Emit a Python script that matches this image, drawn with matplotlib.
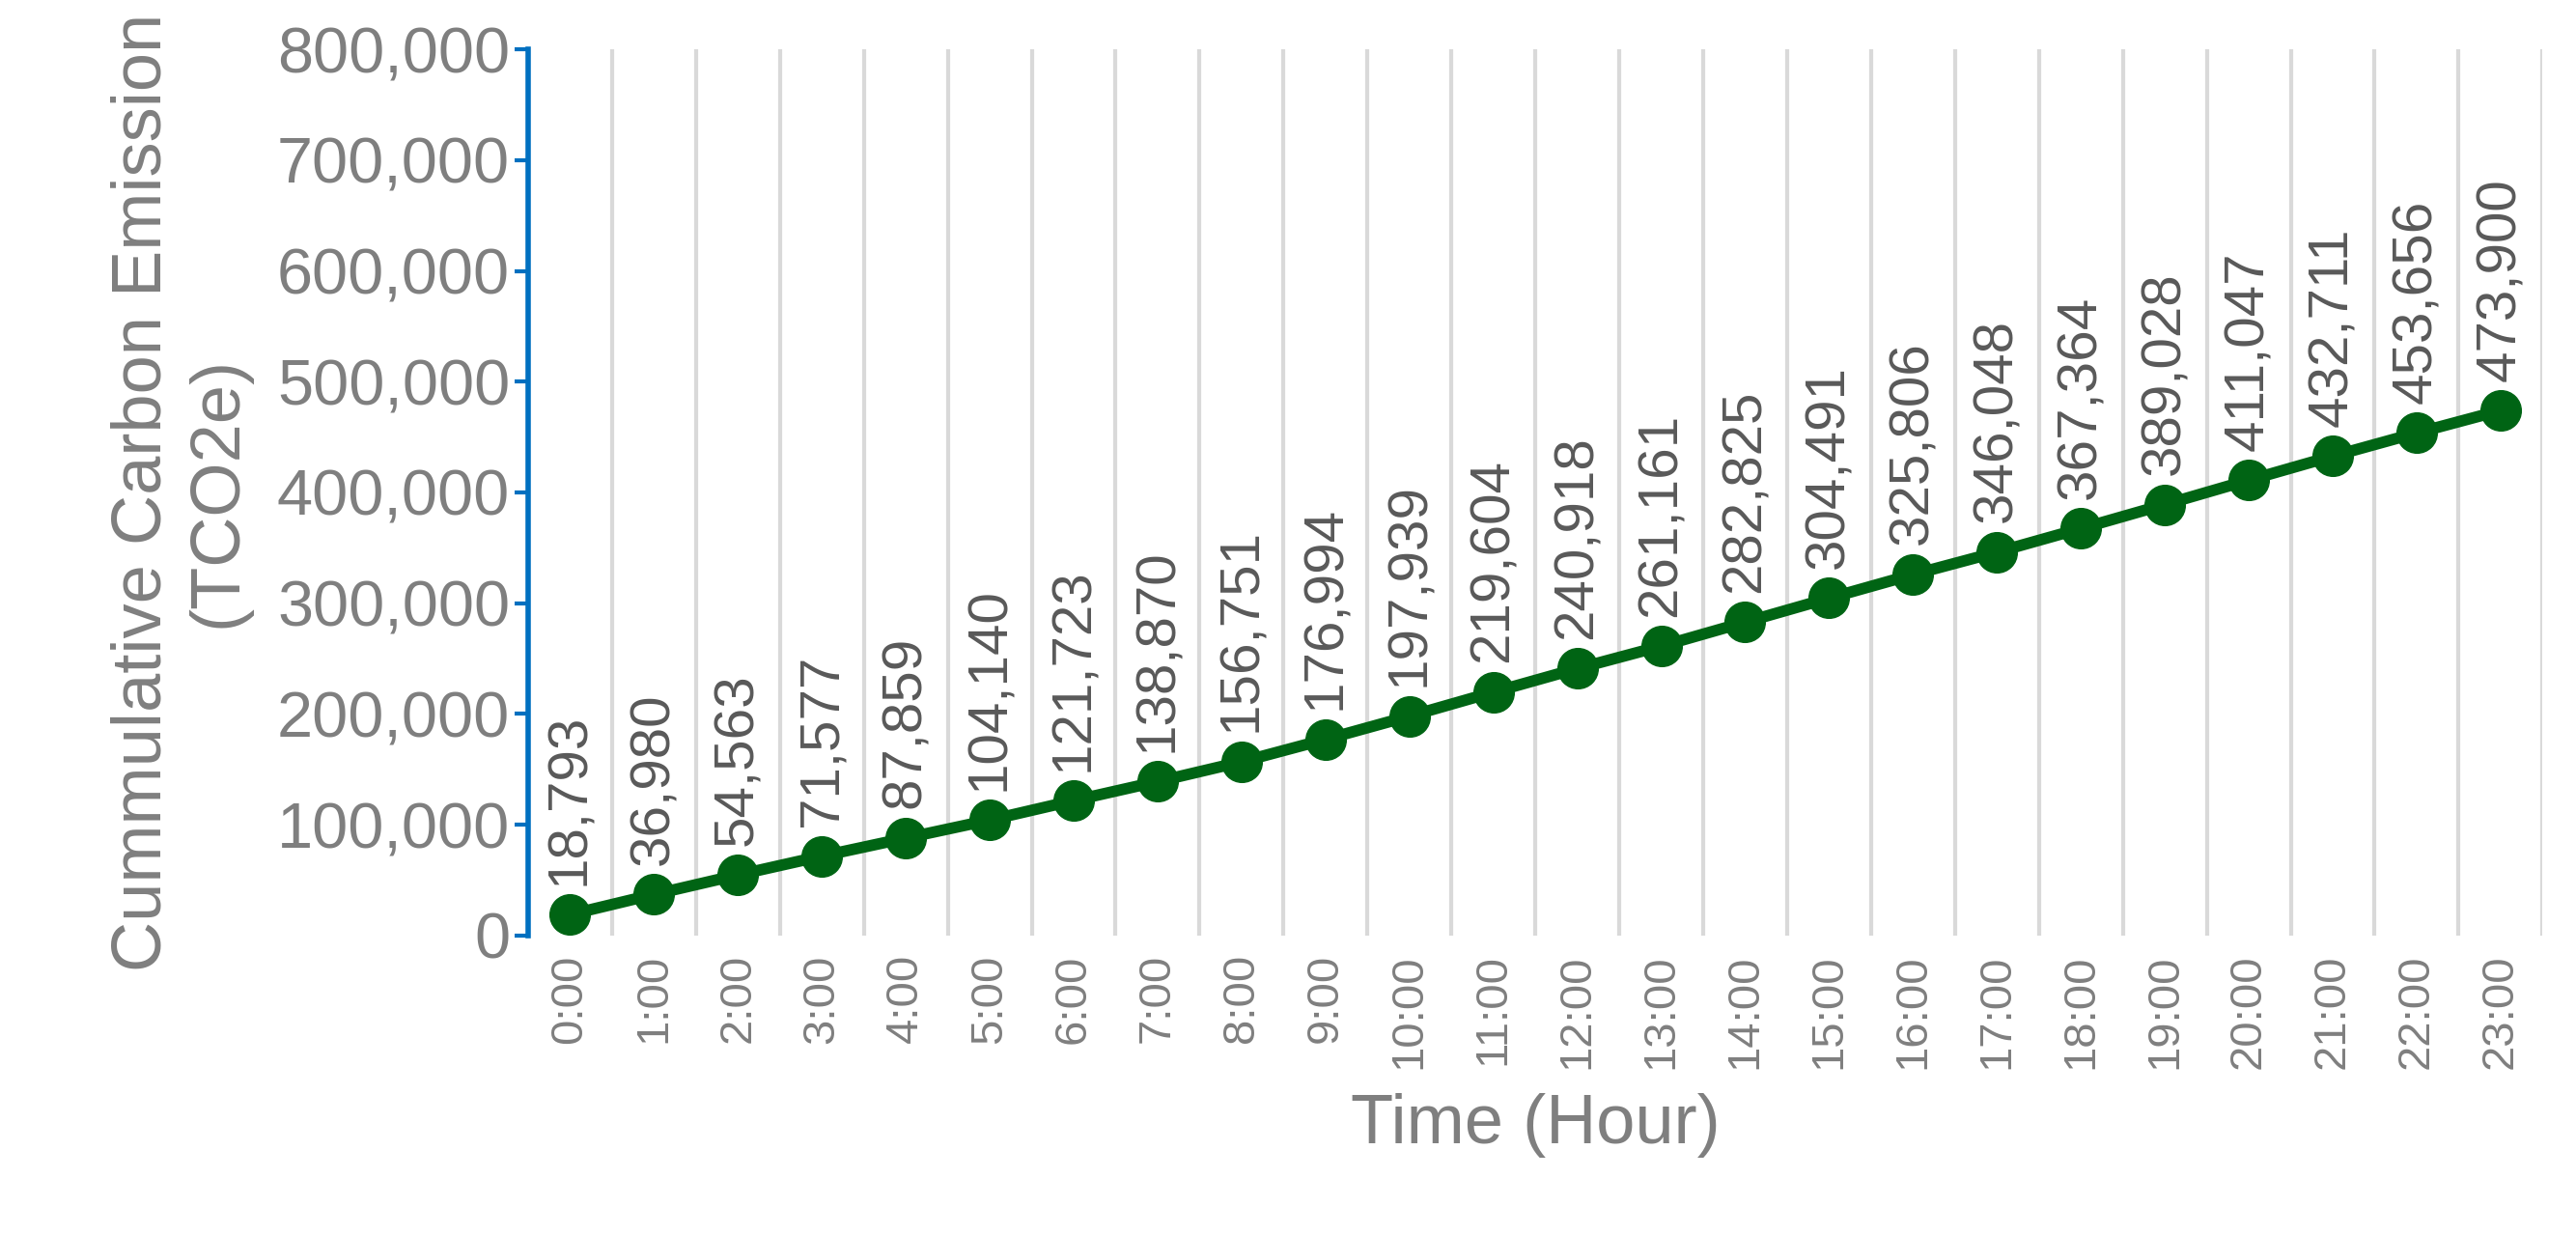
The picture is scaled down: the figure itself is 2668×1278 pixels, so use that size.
import matplotlib.pyplot as plt

hours = ['%d:00' % h for h in range(24)]
emission = [18793, 36980, 54563, 71577, 87859, 104140, 121723, 138870, 156751, 176994,
            197939, 219604, 240918, 261161, 282825, 304491, 325806, 346048, 367364, 389028,
            411047, 432711, 453656, 473900]

gray = '#7f7f7f'
green = '#006414'

plt.rcParams['font.family'] = ['Liberation Sans', 'DejaVu Sans']
fig = plt.figure(figsize=(26.68, 12.78), dpi=100)
ax = fig.add_axes([0.205, 0.242, 0.782, 0.718])

x = list(range(len(hours)))
ax.plot(x, emission, color=green, lw=8.5, marker='o', ms=30, zorder=3)
for i, v in enumerate(emission):
    ax.annotate('{:,}'.format(v), (i, v), xytext=(0, 22), textcoords='offset points',
                rotation=90, ha='center', va='bottom', fontsize=42, color='#595959')

ax.set_xlim(-0.5, len(hours) - 0.5)
ax.set_ylim(0, 800000)
ax.set_yticks(range(0, 800001, 100000))
ax.set_yticklabels(['{:,}'.format(t) for t in range(0, 800001, 100000)])
ax.set_xticks(x)
ax.set_xticklabels(hours, rotation=90)
for b in range(len(hours) + 1):
    ax.axvline(b - 0.5, color='#d9d9d9', lw=3, zorder=1)

for s in ['top', 'right', 'bottom']:
    ax.spines[s].set_visible(False)
ax.spines['left'].set_color('#0070c0')
ax.spines['left'].set_linewidth(4)
ax.tick_params(axis='y', colors=gray, labelsize=48, length=10, width=3, color='#0070c0')
ax.tick_params(axis='x', colors=gray, labelsize=34, length=0, pad=14)

ax.set_xlabel('Time (Hour)', fontsize=52, color=gray, labelpad=18)
ax.set_ylabel('Cummulative Carbon Emission\n(TCO2e)', fontsize=52, color=gray, labelpad=20)

fig.savefig('out.png')
